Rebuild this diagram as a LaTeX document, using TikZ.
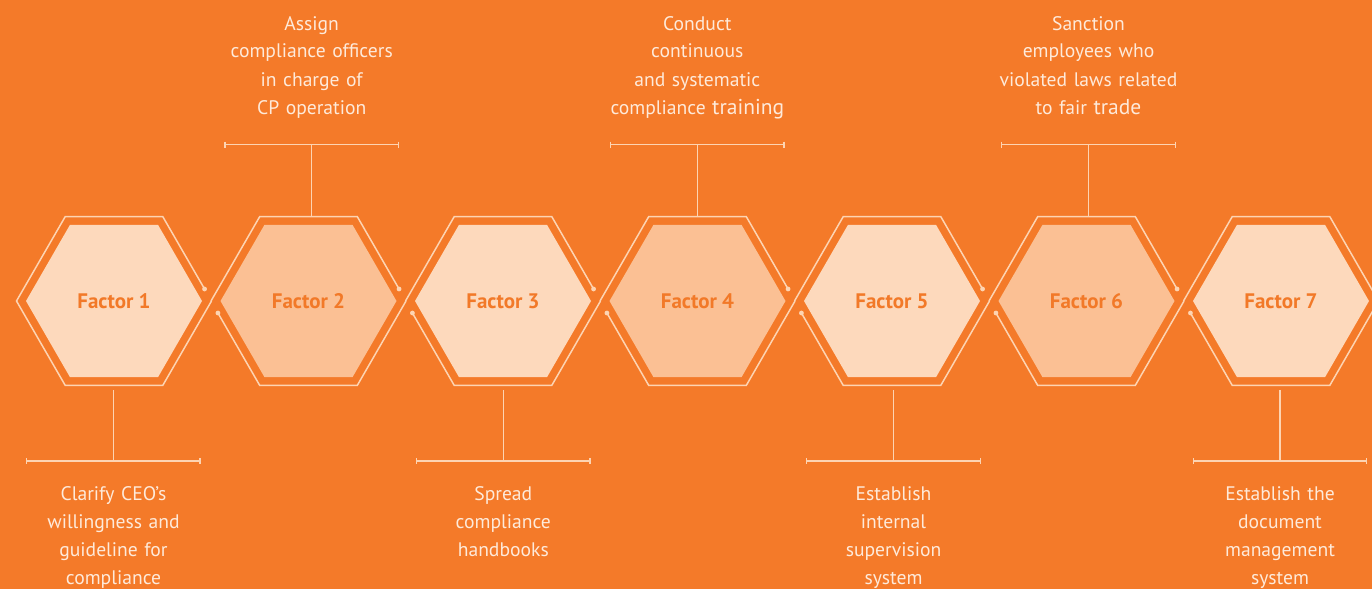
\documentclass[tikz,border=0pt]{standalone}
\usepackage{fontspec}
\setmainfont{PT Sans}
\usetikzlibrary{calc}
\definecolor{bgorange}{RGB}{244,122,41}
\definecolor{lineclr}{RGB}{253,212,178}
\definecolor{lightfill}{RGB}{253,217,188}
\definecolor{darkfill}{RGB}{251,192,148}
\definecolor{txtclr}{RGB}{254,234,218}
\definecolor{factorclr}{RGB}{242,121,40}
\tikzset{
  factor/.style={text=factorclr, font=\fontsize{21}{24}\selectfont\bfseries, inner sep=0pt},
  outline/.style={draw=lineclr, line width=1.5pt, line join=miter},
  bracketline/.style={draw=lineclr, line width=1.3pt},
  desc/.style={text=txtclr, font=\fontsize{19.6}{28}\selectfont, text width=230pt, align=center, anchor=base, inner sep=0pt},
  enddot/.style={fill=lineclr}
}
\newcommand{\bigw}[1]{{\fontsize{21.5}{28}\selectfont #1}}
\begin{document}
\begin{tikzpicture}[x=1pt,y=-1pt]
\useasboundingbox (0,0) rectangle (1372,589);
\fill[bgorange] (0,0) rectangle (1372,589);
\clip (0,0) rectangle (1372,589);
% hexagon centres
\foreach \i/\cx in {1/114,2/308.5,3/503,4/697.5,5/892,6/1086.5,7/1281}{
  \coordinate (c\i) at (\cx,301);
}
% inner hexagons
\foreach \i/\f in {1/lightfill,2/darkfill,3/lightfill,4/darkfill,5/lightfill,6/darkfill,7/lightfill}{
  \fill[\f] ($(c\i)+(88,0)$) -- ($(c\i)+(44,76.21)$) -- ($(c\i)+(-44,76.21)$)
     -- ($(c\i)+(-88,0)$) -- ($(c\i)+(-44,-76.21)$) -- ($(c\i)+(44,-76.21)$) -- cycle;
  \node[factor] (f\i) at (c\i) {Factor \i};
}
% outer outlines
% hexagon 1: closed on the left
\draw[outline] ($(c1)+(90.57,-12)$) -- ($(c1)+(48.75,-84.44)$) -- ($(c1)+(-48.75,-84.44)$)
   -- ($(c1)+(-97.5,0)$) -- ($(c1)+(-48.75,84.44)$) -- ($(c1)+(48.75,84.44)$) -- ($(c1)+(97.5,0)$);
\fill[enddot] ($(c1)+(90.57,-12)$) circle (2.4);
\foreach \i in {2,...,6}{
  \draw[outline] ($(c\i)+(-97.5,0)$) -- ($(c\i)+(-48.75,-84.44)$) -- ($(c\i)+(48.75,-84.44)$) -- ($(c\i)+(90.57,-12)$);
  \draw[outline] ($(c\i)+(-90.57,12)$) -- ($(c\i)+(-48.75,84.44)$) -- ($(c\i)+(48.75,84.44)$) -- ($(c\i)+(97.5,0)$);
  \fill[enddot] ($(c\i)+(90.57,-12)$) circle (2.4);
  \fill[enddot] ($(c\i)+(-90.57,12)$) circle (2.4);
}
% hexagon 7: closed on the right
\draw[outline] ($(c7)+(-97.5,0)$) -- ($(c7)+(-48.75,-84.44)$) -- ($(c7)+(48.75,-84.44)$)
   -- ($(c7)+(97.5,0)$) -- ($(c7)+(48.75,84.44)$) -- ($(c7)+(-48.75,84.44)$) -- ($(c7)+(-90.57,12)$);
\fill[enddot] ($(c7)+(-90.57,12)$) circle (2.4);
% brackets: top (2,4,6)
\foreach \i/\bx in {2/311.7,4/697.3,6/1088.5}{
  \coordinate (b\i) at (\bx,144.5);
  \coordinate (e\i) at (\bx,216.6);
  \coordinate (bl\i) at ($(b\i)+(-86.7,0)$);
  \coordinate (br\i) at ($(b\i)+(86.7,0)$);
  \draw[bracketline] (bl\i) -- (br\i);
  \draw[bracketline] ($(bl\i)+(0,-3)$) -- ($(bl\i)+(0,3)$);
  \draw[bracketline] ($(br\i)+(0,-3)$) -- ($(br\i)+(0,3)$);
  \draw[bracketline] (b\i) -- (e\i);
}
% brackets: bottom (1,3,5,7)
\foreach \i/\bx in {1/113.3,3/503.3,5/893.5,7/1280}{
  \coordinate (b\i) at (\bx,461);
  \coordinate (e\i) at (\bx,390);
  \coordinate (bl\i) at ($(b\i)+(-86.7,0)$);
  \coordinate (br\i) at ($(b\i)+(86.7,0)$);
  \draw[bracketline] (bl\i) -- (br\i);
  \draw[bracketline] ($(bl\i)+(0,-3)$) -- ($(bl\i)+(0,3)$);
  \draw[bracketline] ($(br\i)+(0,-3)$) -- ($(br\i)+(0,3)$);
  \draw[bracketline] (b\i) -- (e\i);
}
% descriptions
\node[desc] (d2) at (311.7,30) {Assign\\compliance officers\\in charge of\\CP operation};
\node[desc] (d4) at (697.3,30) {Conduct\\continuous\\and systematic\\compliance \bigw{training}};
\node[desc] (d6) at (1088.5,30) {Sanction\\employees who\\violated laws related\\to fair \bigw{trade}};
\node[desc] (d1) at (113.5,500.7) {Clarify CEO's\\willingness and\\guideline for\\compliance};
\node[desc] (d3) at (503.3,500.7) {Spread\\compliance\\handbooks};
\node[desc] (d5) at (893.5,500.7) {Establish\\internal\\supervision\\system};
\node[desc] (d7) at (1280,500.7) {Establish the\\document\\management\\system};
\end{tikzpicture}
\end{document}
